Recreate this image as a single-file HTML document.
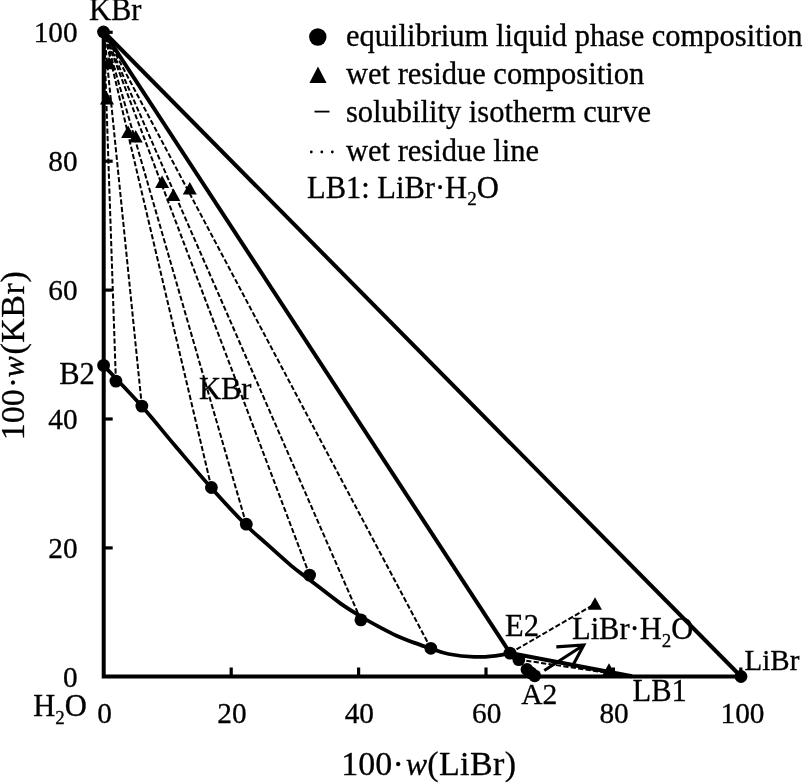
<!DOCTYPE html>
<html><head><meta charset="utf-8"><title>Phase diagram</title>
<style>html,body{margin:0;padding:0;background:#fff}svg{display:block}</style></head>
<body>
<svg width="804" height="783" viewBox="0 0 804 783">
<rect width="804" height="783" fill="#fff"/>
<g stroke="#000" fill="none" stroke-linecap="butt">
<path d="M103.7 32.0 V678.6 M101.7 676.6 H741.0" stroke-width="4"/>
<path d="M104.0 547.9 H112.7" stroke-width="3.2"/>
<path d="M231.2 676.5 V667.5" stroke-width="3.2"/>
<path d="M104.0 419.0 H112.7" stroke-width="3.2"/>
<path d="M358.6 676.5 V667.5" stroke-width="3.2"/>
<path d="M104.0 290.1 H112.7" stroke-width="3.2"/>
<path d="M486.0 676.5 V667.5" stroke-width="3.2"/>
<path d="M104.0 161.2 H112.7" stroke-width="3.2"/>
<path d="M613.4 676.5 V667.5" stroke-width="3.2"/>
<path d="M104.0 32.3 H112.7" stroke-width="3.2"/>
<path d="M740.8 676.5 V667.5" stroke-width="3.2"/>
<path d="M104.0 32.0 L741.0 676.5" stroke-width="4"/>
<path d="M104.0 32.0 L510 653" stroke-width="4"/>
<path d="M510 653 L632 676.3" stroke-width="4"/>
<path d="M103.6 365.4 C110.0 372.2 130.0 393.0 141.85 406.3 C153.7 419.6 163.1 431.7 174.7 445.3 C186.3 458.9 199.5 474.7 211.4 488 C223.3 501.3 236.9 515.9 245.9 525 C254.9 534.1 258.0 536.0 265.5 542.8 C273.0 549.6 283.8 559.4 291.1 565.6 C298.5 571.8 301.5 573.5 309.6 579.8 C317.8 586.0 331.4 597.0 340 603.1 C348.6 609.2 354.7 612.7 360.9 616.5 C367.1 620.3 371.4 622.8 377.3 625.9 C383.2 629.0 389.8 632.6 396 635.4 C402.2 638.2 408.8 640.7 414.6 642.9 C420.4 645.1 425.2 646.6 430.8 648.5 C436.4 650.4 441.2 652.6 448.5 654 C455.8 655.4 466.3 656.6 474.4 656.9 C482.5 657.2 491.1 656.2 497 655.6 C502.9 655.0 507.8 653.5 510 653.1" stroke-width="3.8" stroke-linejoin="round"/>
<path d="M115.9 381.1 L104 32" stroke-width="2" stroke-dasharray="5.2 2.3"/>
<path d="M141.85 406.1 L104 32" stroke-width="2" stroke-dasharray="5.2 2.3"/>
<path d="M211.4 487.5 L104 32" stroke-width="2" stroke-dasharray="5.2 2.3"/>
<path d="M246.3 524.2 L104 32" stroke-width="2" stroke-dasharray="5.2 2.3"/>
<path d="M309.6 575.1 L104 32" stroke-width="2" stroke-dasharray="5.2 2.3"/>
<path d="M360.9 619.9 L104 32" stroke-width="2" stroke-dasharray="5.2 2.3"/>
<path d="M430.8 648.3 L104 32" stroke-width="2" stroke-dasharray="5.2 2.3"/>
<path d="M510 653.1 L595 604" stroke-width="2" stroke-dasharray="5.2 2.3"/>
<path d="M518.8 659.6 L629 676" stroke-width="2" stroke-dasharray="5.2 2.3"/>
<path d="M544.3 670.5 L583.8 645 M556.3 646.9 L583.8 645 L573.6 664" stroke-width="3.1"/>
</g>
<g fill="#000">
<circle cx="103.6" cy="365.4" r="6.4"/>
<circle cx="115.9" cy="381.1" r="6.4"/>
<circle cx="141.85" cy="406.1" r="6.4"/>
<circle cx="211.4" cy="487.5" r="6.4"/>
<circle cx="246.3" cy="524.2" r="6.4"/>
<circle cx="309.6" cy="575.1" r="6.4"/>
<circle cx="360.9" cy="619.9" r="6.4"/>
<circle cx="430.8" cy="648.3" r="6.4"/>
<circle cx="510" cy="653.1" r="6.4"/>
<circle cx="103.5" cy="32.0" r="6.4"/>
<circle cx="741.0" cy="676.5" r="6.4"/>
<circle cx="518.8" cy="659.6" r="6.4"/>
<circle cx="527" cy="669.5" r="6.4"/>
<circle cx="531" cy="673" r="6.4"/>
<circle cx="534.7" cy="675.8" r="6.4"/>
<path d="M107 91.89999999999999 L114 104.39999999999999 L100 104.39999999999999 Z"/>
<path d="M109 56.8 L116 69.3 L102 69.3 Z"/>
<path d="M128.1 125.60000000000001 L135.1 138.10000000000002 L121.1 138.10000000000002 Z"/>
<path d="M135.7 129.9 L142.7 142.4 L128.7 142.4 Z"/>
<path d="M162.1 175.5 L169.1 188.0 L155.1 188.0 Z"/>
<path d="M173.4 188.5 L180.4 201.0 L166.4 201.0 Z"/>
<path d="M189.8 182.0 L196.8 194.5 L182.8 194.5 Z"/>
<path d="M595 597.3 L602 609.8 L588 609.8 Z"/>
<path d="M609 663.3 L616 675.8 L602 675.8 Z"/>
</g>
<g font-family="'Liberation Serif', serif" font-size="30.5" fill="#000" stroke="#000" stroke-width="0.3">
<text x="77.6" y="686.5" text-anchor="end" font-size="29.3">0</text>
<text x="104.5" y="722.6" text-anchor="middle" font-size="29.3">0</text>
<text x="77.6" y="557.6" text-anchor="end" font-size="29.3">20</text>
<text x="231.9" y="722.6" text-anchor="middle" font-size="29.3">20</text>
<text x="77.6" y="428.7" text-anchor="end" font-size="29.3">40</text>
<text x="359.3" y="722.6" text-anchor="middle" font-size="29.3">40</text>
<text x="77.6" y="299.8" text-anchor="end" font-size="29.3">60</text>
<text x="486.7" y="722.6" text-anchor="middle" font-size="29.3">60</text>
<text x="77.6" y="170.9" text-anchor="end" font-size="29.3">80</text>
<text x="614.1" y="722.6" text-anchor="middle" font-size="29.3">80</text>
<text x="77.6" y="42.0" text-anchor="end" font-size="29.3">100</text>
<text x="742.5" y="722.6" text-anchor="middle" font-size="29.3">100</text>
<text x="89" y="19.9">KBr</text>
<text x="59.2" y="384.2">B2</text>
<text x="199" y="398.6">KBr</text>
<text x="505" y="635.7">E2</text>
<text x="572" y="639.2">LiBr·H<tspan dy="7.5" font-size="19">2</tspan><tspan dy="-7.5">O</tspan></text>
<text x="521.2" y="703.9" font-size="29.5">A2</text>
<text x="632.5" y="700.6">LB1</text>
<text x="744.6" y="669.6" font-size="29">LiBr</text>
<text x="33.2" y="716">H<tspan dy="7.5" font-size="19">2</tspan><tspan dy="-7.5">O</tspan></text>
<text y="775.2" font-size="34"><tspan x="341.3">100</tspan><tspan x="392.6">·</tspan><tspan x="405.8" font-style="italic" font-size="32">w</tspan><tspan x="427.2" letter-spacing="0.4">(LiBr)</tspan></text>
<text transform="translate(24.2 440.2) rotate(-90)" font-size="34"><tspan x="0">100</tspan><tspan x="51.85">·</tspan><tspan x="62.7" font-style="italic" font-size="32">w</tspan><tspan x="85.6" letter-spacing="0.55">(KBr)</tspan></text>
<text x="346" y="45.7">equilibrium liquid phase composition</text>
<text x="346" y="83.6">wet residue composition</text>
<text x="346" y="121.8">solubility isotherm curve</text>
<text x="346" y="161.4">wet residue line</text>
<text x="307" y="197.5">LB1: LiBr·H<tspan dy="7.5" font-size="19">2</tspan><tspan dy="-7.5">O</tspan></text>
</g>
<g fill="#000"><circle cx="317.8" cy="37" r="8.7"/><path d="M318 66.5 L326.6 83 L309.4 83 Z"/><rect x="314.5" y="110.7" width="15" height="1.8"/><circle cx="311.3" cy="152" r="1.4"/><circle cx="321.8" cy="152" r="1.4"/><circle cx="332.3" cy="152" r="1.4"/></g>
</svg>
</body></html>
